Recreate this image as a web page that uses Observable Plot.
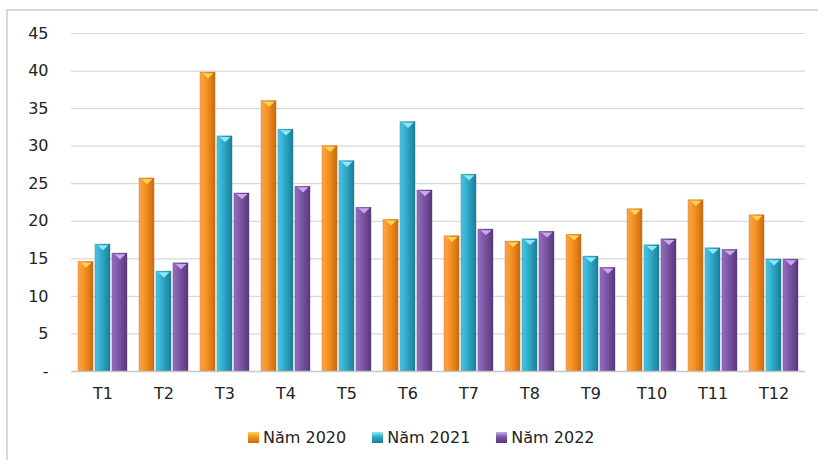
<!DOCTYPE html>
<html>
<head>
<meta charset="utf-8">
<script src="https://cdn.jsdelivr.net/npm/d3@7"></script>
<script src="https://cdn.jsdelivr.net/npm/@observablehq/plot@0.6"></script>
<style>
  html, body { margin: 0; padding: 0; background: #fff; }
  #wrap { position: relative; width: 818px; height: 460px; overflow: hidden; font-family: "DejaVu Sans", sans-serif; }
  #frame { position: absolute; left: 6px; top: 9px; width: 830px; height: 470px; border-left: 2px solid #d9d9d9; border-top: 2px solid #d9d9d9; box-sizing: border-box; }
  #chart { position: absolute; left: 0; top: 0; }
  #legend { position: absolute; top: 428px; left: 248px; display: flex; gap: 26px; font-size: 16px; color: #222; white-space: nowrap; }
  .item { display: flex; align-items: center; gap: 4px; }
  .sw { width: 11px; height: 11px; display: inline-block; }
</style>
</head>
<body>
<div id="wrap">
  <div id="frame"></div>
  <div id="chart"></div>
  <div id="legend"></div>
</div>
<script>
const months = ["T1","T2","T3","T4","T5","T6","T7","T8","T9","T10","T11","T12"];
const seriesNames = ["Năm 2020","Năm 2021","Năm 2022"];
const s2020 = [14.6, 25.7, 39.8, 36.0, 30.0, 20.2, 18.0, 17.3, 18.2, 21.6, 22.8, 20.8];
const s2021 = [16.9, 13.3, 31.3, 32.2, 28.0, 33.2, 26.2, 17.6, 15.3, 16.8, 16.4, 14.9];
const s2022 = [15.7, 14.4, 23.7, 24.6, 21.8, 24.1, 18.9, 18.6, 13.8, 17.6, 16.2, 14.9];
const yTicks = [0,5,10,15,20,25,30,35,40,45];

const seriesValues = [s2020, s2021, s2022];
const gradIds = ["gOrange","gCyan","gPurple"];
const gradStops = [
  ["#f9a550","#f5901f","#c96a12"],
  ["#4cc5e4","#2ea9c9","#1c7d97"],
  ["#966ebf","#7b55a5","#573879"]
];
const topColors = ["#fcd54c","#8aeafa","#caa8ec"];

const width = 818, marginLeft = 71, marginRight = 13;
const paddingInner = 0.2, paddingOuter = 0.1, gap = 2;
const step = (width - marginLeft - marginRight) / (months.length - paddingInner + 2 * paddingOuter);
const bw = step * (1 - paddingInner);
const barW = (bw - 2 * gap) / 3;

const flatTriangle = {
  draw(context) {
    const hw = barW / 2 - 2, h = 2.6;
    context.moveTo(-hw, -h);
    context.lineTo(hw, -h);
    context.lineTo(0, h);
    context.closePath();
  }
};

const data = [];
seriesNames.forEach((s, i) => months.forEach((m, j) => data.push({month: m, series: s, value: seriesValues[i][j], idx: i})));

const marks = [
  Plot.gridY(yTicks.filter(t => t > 0), {stroke: "#d9d9d9", strokeOpacity: 1, strokeWidth: 1.2})
];
seriesNames.forEach((s, i) => {
  const sub = data.filter(d => d.idx === i);
  const left = i * (barW + gap);
  const right = (2 - i) * (barW + gap);
  marks.push(Plot.barY(sub, {x: "month", y: "value", insetLeft: left, insetRight: right,
    fill: `url(#${gradIds[i]})`, stroke: gradStops[i][2], strokeWidth: 0.6, strokeOpacity: 0.6}));
  marks.push(Plot.dot(sub, {x: "month", y: "value", dx: (i - 1) * (barW + gap), dy: 3.2,
    symbol: flatTriangle, fill: topColors[i], stroke: "none"}));
});
marks.push(Plot.ruleY([0], {stroke: "#c8c8c8", strokeWidth: 1.3}));

const plot = Plot.plot({
  width,
  height: 418,
  marginTop: 33,
  marginBottom: 47,
  marginLeft,
  marginRight,
  style: {fontFamily: "'DejaVu Sans', sans-serif", fontSize: "16px", color: "#222", background: "transparent"},
  x: {domain: months, paddingInner, paddingOuter, label: null, tickSize: 0, tickPadding: 16},
  y: {domain: [0, 45], ticks: yTicks, tickFormat: d => d === 0 ? "-" : d, tickSize: 0, tickPadding: 23, label: null},
  marks
});

const ns = "http://www.w3.org/2000/svg";
const defs = document.createElementNS(ns, "defs");
gradIds.forEach((id, i) => {
  const g = document.createElementNS(ns, "linearGradient");
  g.setAttribute("id", id);
  g.setAttribute("x1", "0"); g.setAttribute("x2", "1"); g.setAttribute("y1", "0"); g.setAttribute("y2", "0");
  [[0, gradStops[i][0]], [0.45, gradStops[i][1]], [1, gradStops[i][2]]].forEach(([o, c]) => {
    const st = document.createElementNS(ns, "stop");
    st.setAttribute("offset", o); st.setAttribute("stop-color", c);
    g.appendChild(st);
  });
  defs.appendChild(g);
});
plot.insertBefore(defs, plot.firstChild);
document.getElementById("chart").appendChild(plot);

const legend = document.getElementById("legend");
seriesNames.forEach((s, i) => {
  const it = document.createElement("div");
  it.className = "item";
  const sw = document.createElement("span");
  sw.className = "sw";
  sw.style.background = `linear-gradient(180deg, ${topColors[i]} 0%, ${gradStops[i][1]} 45%, ${gradStops[i][2]} 100%)`;
  const tx = document.createElement("span");
  tx.textContent = s;
  it.appendChild(sw); it.appendChild(tx);
  legend.appendChild(it);
});
</script>
</body>
</html>
